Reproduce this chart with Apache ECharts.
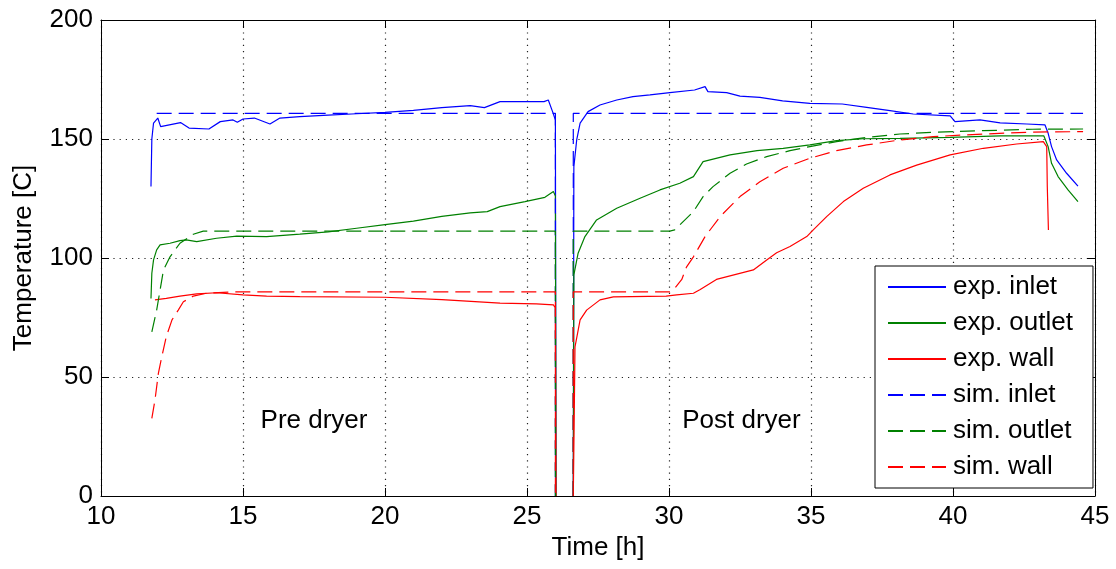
<!DOCTYPE html>
<html>
<head>
<meta charset="utf-8">
<script src="https://cdn.jsdelivr.net/npm/echarts@6/dist/echarts.min.js"></script>
<style>
html,body{margin:0;padding:0;background:#fff;}
#chart{width:1116px;height:569px;}
</style>
</head>
<body>
<div id="chart"></div>
<script>
// ---- data (time [h], temperature [C]) ----
var xTicks = [10, 15, 20, 25, 30, 35, 40, 45];
var yTicks = [0, 50, 100, 150, 200];
var seriesNames = ['exp. inlet', 'exp. outlet', 'exp. wall', 'sim. inlet', 'sim. outlet', 'sim. wall'];

var expInlet = [[11.76,130],[11.79,150],[11.85,156.7],[12.0,158.8],[12.1,155.2],[12.8,156.9],[13.1,154.6],[13.8,154.2],[14.2,157.3],[14.65,158],[14.8,157],[15.0,158.4],[15.4,158.8],[15.95,156.3],[16.3,158.8],[17.0,159.4],[18,160],[19,160.6],[20,161.2],[21,162],[22,163.2],[23,164],[23.5,163.2],[24.05,165.7],[25.6,165.7],[25.75,166.4],[25.9,161.5],[26.0,158],[26.02,0],[26.3,null],[26.63,0],[26.65,138.4],[26.75,149.6],[26.87,156.7],[27.15,161.5],[27.57,164.3],[28.16,166.4],[28.73,167.8],[29.33,168.5],[30.03,169.5],[30.9,170.6],[31.27,172],[31.37,169.9],[32.03,169.5],[32.5,168],[33.2,167.5],[34.0,166],[34.96,165],[36.1,164.7],[36.96,163.3],[37.78,161.9],[38.6,160.5],[39.9,159.7],[40.07,157.3],[40.95,158],[41.66,156.8],[42.6,156.3],[43.24,155.9],[43.35,152.4],[43.47,146.8],[43.65,141.2],[44.0,135.6],[44.4,130.2]];

var expOutlet = [[11.76,83],[11.79,93.6],[11.85,99.2],[11.96,103.4],[12.08,105.5],[12.43,106.2],[12.78,107.3],[13.0,107.6],[13.37,106.9],[14.07,108.3],[14.78,109.2],[15.83,109],[17.0,110],[18,111],[19,112.5],[20,114],[21,115.5],[22,117.5],[23,119],[23.6,119.5],[24.05,121.6],[24.93,123.7],[25.63,125.5],[25.93,127.9],[26.0,126],[26.02,0],[26.3,null],[26.63,0],[26.65,92.9],[26.8,102],[27.04,109],[27.45,116],[28.16,120.9],[28.98,125.1],[29.68,128.6],[30.38,131.4],[30.86,134.2],[31.2,140.5],[32.15,143.3],[33.1,145.1],[34.02,146.1],[34.96,147.5],[35.9,149.3],[36.84,150.1],[38.13,150.3],[39.9,150.7],[41.66,151.3],[43.2,151.3],[43.35,146.8],[43.47,139.8],[43.7,134.2],[44.05,128.6],[44.4,123.7]];

var expWall = [[11.9,82.4],[12.3,83],[12.78,84],[13.37,84.9],[14.07,85.4],[15.0,84.5],[15.83,84],[17.0,83.8],[20,83.5],[22,82.5],[24.05,81],[25.33,80.7],[25.93,80.3],[26.0,79],[26.02,0],[26.3,null],[26.63,0],[26.66,30],[26.69,62.7],[26.87,74],[27.1,78.1],[27.57,82.4],[28.04,83.7],[29.9,84],[30.27,84.5],[30.86,85.2],[31.1,86.8],[31.67,91],[32.97,95],[33.44,99.2],[33.79,102.2],[34.26,104.8],[34.85,109],[35.08,111.8],[35.55,117.4],[36.14,123.7],[36.84,129.3],[37.78,134.9],[38.72,139],[39.9,143.3],[41.07,146.1],[42.24,147.9],[43.18,148.9],[43.3,146.8],[43.32,130],[43.36,111.8]];

var simInlet = [[11.96,160.8],[26.0,160.8],[26.0,0],[26.3,null],[26.63,0],[26.63,160.8],[44.58,160.8]];

var simOutlet = [[11.79,69],[11.96,78.1],[12.08,86.5],[12.2,95],[12.43,100.5],[12.78,106.2],[13.25,110],[13.6,111.3],[26.0,111.3],[26.0,0],[26.3,null],[26.63,0],[26.63,111.3],[30.03,111.3],[30.2,111.8],[30.86,119.5],[31.2,125.8],[31.55,130],[32.15,135.6],[32.73,139.5],[33.44,142.6],[34.26,145.1],[34.96,146.8],[35.9,148.9],[36.96,150.7],[38.13,152.1],[39.3,152.8],[41.07,153.5],[42.8,154.1],[44.58,154.2]];

var simWall = [[11.79,32.6],[11.9,40.3],[12.02,51.5],[12.14,58.5],[12.3,67],[12.5,74],[12.72,78.1],[12.9,81.6],[13.25,84],[13.72,85.2],[14.66,85.8],[26.0,85.8],[26.0,0],[26.3,null],[26.63,0],[26.63,85.8],[30.03,85.8],[30.2,87.3],[30.45,91],[30.62,96.3],[30.86,100.5],[31.27,109],[31.8,117.4],[32.5,125.8],[33.2,132],[34.02,137.7],[34.96,141.9],[35.9,145.1],[36.96,147.5],[38.13,149.6],[39.3,151],[41.07,152.1],[42.8,152.9],[44.58,153.1]];

var annotations = [['Pre dryer', 17.5, 31.5], ['Post dryer', 32.55, 31.5]];

// ---- chart ----
var FONT = '"Liberation Sans", Arial, Helvetica, sans-serif';
var BLUE = '#0000ff', GREEN = '#008000', RED = '#ff0000';
var DASH = [15, 7];

function mkSeries(name, data, color, dashed) {
  return {
    name: name, type: 'line', data: data, showSymbol: false, symbol: 'none',
    connectNulls: false, animation: false, clip: true,
    lineStyle: { color: color, width: 1.2, type: dashed ? DASH : 'solid' },
    itemStyle: { color: color }
  };
}

var chart = echarts.init(document.getElementById('chart'), null, { renderer: 'canvas' });
var gridLine = { show: true, lineStyle: { color: '#222', type: [1.2, 5], width: 1.2 } };

chart.setOption({
  animation: false,
  backgroundColor: '#fff',
  grid: { left: 101, right: 21, top: 20, bottom: 73, show: false },
  xAxis: [
    {
      type: 'value', min: xTicks[0], max: xTicks[xTicks.length - 1], interval: 5, position: 'bottom',
      name: 'Time [h]', nameLocation: 'middle', nameGap: 34,
      nameTextStyle: { fontFamily: FONT, fontSize: 26, color: '#000' },
      axisLine: { show: true, onZero: false, lineStyle: { color: '#000', width: 1 } },
      axisTick: { show: true, inside: true, length: 8, lineStyle: { color: '#000' } },
      axisLabel: { fontFamily: FONT, fontSize: 26, color: '#000', margin: 8 },
      splitLine: gridLine
    },
    {
      type: 'value', min: xTicks[0], max: xTicks[xTicks.length - 1], interval: 5, position: 'top',
      axisLine: { show: true, onZero: false, lineStyle: { color: '#000', width: 1 } },
      axisTick: { show: true, inside: true, length: 8, lineStyle: { color: '#000' } },
      axisLabel: { show: false }, splitLine: { show: false }
    }
  ],
  yAxis: [
    {
      type: 'value', min: yTicks[0], max: yTicks[yTicks.length - 1], interval: 50, position: 'left',
      name: 'Temperature [C]', nameLocation: 'middle', nameGap: 64,
      nameTextStyle: { fontFamily: FONT, fontSize: 26, color: '#000' },
      axisLine: { show: true, onZero: false, lineStyle: { color: '#000', width: 1 } },
      axisTick: { show: true, inside: true, length: 8, lineStyle: { color: '#000' } },
      axisLabel: { fontFamily: FONT, fontSize: 26, color: '#000', margin: 8 },
      splitLine: gridLine
    },
    {
      type: 'value', min: yTicks[0], max: yTicks[yTicks.length - 1], interval: 50, position: 'right',
      axisLine: { show: true, onZero: false, lineStyle: { color: '#000', width: 1 } },
      axisTick: { show: true, inside: true, length: 8, lineStyle: { color: '#000' } },
      axisLabel: { show: false }, splitLine: { show: false }
    }
  ],
  legend: {
    data: seriesNames,
    orient: 'vertical',
    left: 875, top: 266,
    padding: [8, 20, 8, 12],
    itemWidth: 58, itemHeight: 14, itemGap: 10,
    itemStyle: { opacity: 0, borderWidth: 0 },
    backgroundColor: '#fff', borderColor: '#000', borderWidth: 1, borderRadius: 0,
    textStyle: { fontFamily: FONT, fontSize: 26, color: '#000', padding: [0, 0, 0, 2] },
    selectedMode: false
  },
  series: [
    mkSeries(seriesNames[0], expInlet, BLUE, false),
    mkSeries(seriesNames[1], expOutlet, GREEN, false),
    mkSeries(seriesNames[2], expWall, RED, false),
    mkSeries(seriesNames[3], simInlet, BLUE, true),
    mkSeries(seriesNames[4], simOutlet, GREEN, true),
    mkSeries(seriesNames[5], simWall, RED, true)
  ]
});

var graphics = annotations.map(function (a) {
  var p = chart.convertToPixel({ xAxisIndex: 0, yAxisIndex: 0 }, [a[1], a[2]]);
  return {
    type: 'text', x: p[0], y: p[1], z: 100,
    style: { text: a[0], fontFamily: FONT, fontSize: 26, fill: '#000', align: 'center', verticalAlign: 'middle' }
  };
});
chart.setOption({ graphic: graphics });
</script>
</body>
</html>
